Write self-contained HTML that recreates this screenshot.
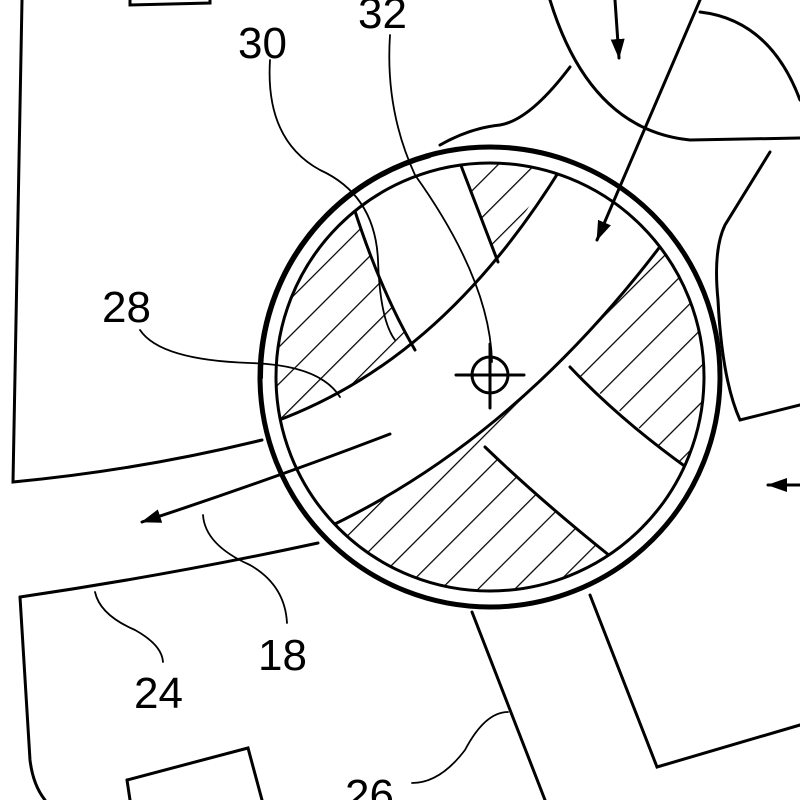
<!DOCTYPE html>
<html><head><meta charset="utf-8"><style>html,body{margin:0;padding:0;background:#fff}svg{display:block}</style></head>
<body>
<svg width="800" height="800" viewBox="0 0 800 800" xmlns="http://www.w3.org/2000/svg">
<defs>
<pattern id="h" patternUnits="userSpaceOnUse" width="26" height="26" patternTransform="rotate(-45)">
<line x1="0" y1="0" x2="26" y2="0" stroke="#000" stroke-width="2.4"/>
</pattern>
<clipPath id="c"><circle cx="490" cy="377" r="214"/></clipPath>
<marker id="a" markerWidth="20" markerHeight="14" refX="19" refY="7" orient="auto" markerUnits="userSpaceOnUse"><path d="M0,0 L20,7 L0,14 z" fill="#000"/></marker>
</defs>
<g fill="none" stroke="#000" stroke-linecap="round">
<path d="M22,0 L13,482 Q140,470 262,440" stroke-width="3"/>
<path d="M130,0 L130,5 L210,3 L210,0" stroke-width="3"/>
<path d="M20,597 Q170,575 318,543" stroke-width="3"/>
<path d="M20,597 L30,760 Q33,785 45,800" stroke-width="3"/>
<path d="M127,780 L248,748 L262,800" stroke-width="3"/>
<path d="M127,780 L130,800" stroke-width="3"/>
<path d="M570,67 Q530,120 500,125 Q470,128 440,145" stroke-width="3"/>
<path d="M550,0 Q590,130 690,140 L800,138" stroke-width="3"/>
<path d="M700,12 Q770,20 800,100" stroke-width="3"/>
<path d="M770,152 L725,225 Q713,250 718,300 Q722,380 740,420 L800,405" stroke-width="3"/>
<path d="M472,612 L545,800" stroke-width="3"/>
<path d="M590,595 L657,767 L800,725" stroke-width="3"/>
<path d="M615,0 L619,58" stroke-width="3" marker-end="url(#a)"/>
<path d="M800,485 L768,485" stroke-width="3" marker-end="url(#a)"/>
<circle cx="490" cy="377" r="214" fill="url(#h)" stroke="none"/>
<g clip-path="url(#c)" fill="#fff" stroke="none">
<path d="M250,430 C380,390 480,300 563,150 L700,150 L700,245 L662,245 C560,380 440,480 300,540 Z"/>
<path d="M340,190 L353,205 Q380,290 415,350 L480,310 L498,262 L460,163 L455,150 Z"/>
<path d="M570,367 L683,467 L640,580 L607,553 Q540,500 485,447 Z"/>
</g>
<g clip-path="url(#c)" stroke-width="3">
<path d="M250,430 C380,390 480,300 563,165"/>
<path d="M300,540 C440,480 560,380 665,240"/>
<path d="M353,205 Q380,290 415,350"/>
<path d="M460,163 L498,262"/>
<path d="M570,367 Q620,420 690,470"/>
<path d="M485,447 Q540,500 610,556"/>
</g>
<circle cx="490" cy="377" r="214" stroke-width="3"/>
<circle cx="490" cy="377" r="230" stroke-width="5"/>
<path d="M262,378 A228,228 0 0 1 430,157" stroke-width="2"/>
<path d="M700,0 L597,240" stroke-width="3" marker-end="url(#a)"/>
<path d="M390,434 Q270,480 142,522" stroke-width="3" marker-end="url(#a)"/>
<circle cx="490" cy="375" r="18" stroke-width="3"/>
<path d="M456,375 L524,375 M490,344 L490,408" stroke-width="3"/>
<path d="M270,60 Q265,140 320,170 Q375,195 378,260 Q380,320 395,340" stroke-width="1.8"/>
<path d="M390,35 Q385,110 415,175 Q490,280 492,362" stroke-width="1.8"/>
<path d="M140,330 Q160,360 250,363 Q320,365 340,397" stroke-width="1.8"/>
<path d="M203,515 Q205,545 250,565 Q285,585 287,623" stroke-width="1.8"/>
<path d="M95,592 Q100,615 135,630 Q162,645 163,662" stroke-width="1.8"/>
<path d="M412,783 Q440,783 465,750 Q485,712 508,712" stroke-width="1.8"/>
</g>
<g font-family="Liberation Sans, sans-serif" font-size="44" fill="#000">
<text x="238" y="58">30</text>
<text x="358" y="28">32</text>
<text x="102" y="322">28</text>
<text x="258" y="670">18</text>
<text x="134" y="708">24</text>
<text x="345" y="810">26</text>
</g>
</svg>
</body></html>
